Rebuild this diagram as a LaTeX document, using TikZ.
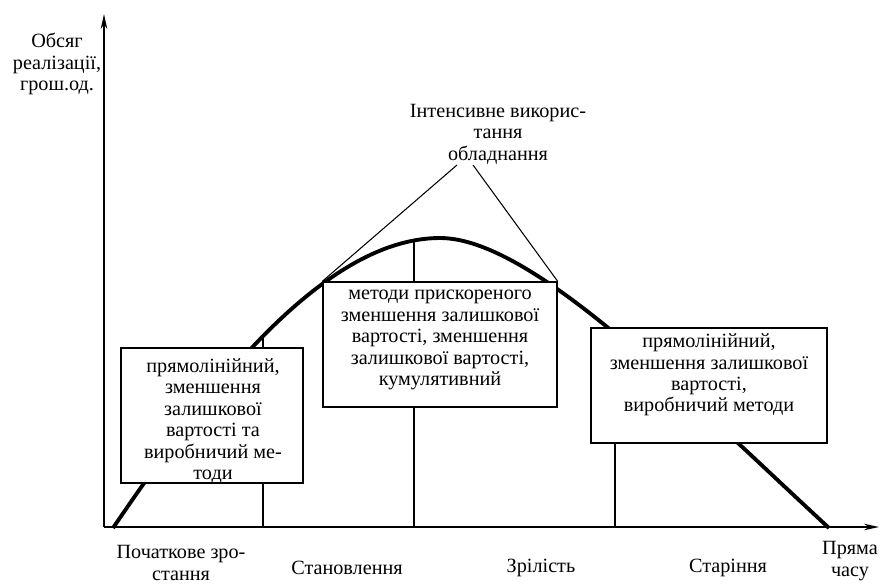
\documentclass[tikz,border=0pt]{standalone}
\usepackage{fontspec}
\setmainfont{Liberation Serif}
\usetikzlibrary{arrows.meta, positioning}

\begin{document}
\begin{tikzpicture}[
    x=0.02cm, y=-0.02cm,
    font=\fontsize{11.5}{12.2}\selectfont,
    axis/.style={line width=0.9pt, -{Stealth[length=3mm, width=1.3mm]}},
    lifecurve/.style={line width=2.2pt, line join=round},
    phaseline/.style={line width=0.7pt},
    pointer/.style={line width=0.6pt},
    methodbox/.style={rectangle, draw, line width=0.8pt, fill=white, inner sep=0pt},
    caption/.style={align=center, inner sep=1pt}
]
\useasboundingbox (0,0) rectangle (880,583);

% Axes
\coordinate (origin) at (104,527);
\coordinate (ytop) at (104,14);
\coordinate (xend) at (879,527);
\draw[axis] (origin) -- (ytop);
\draw[axis] (origin) -- (xend);

% Life cycle curve
\coordinate (start) at (113,528);
\coordinate (peak) at (440,238);
\coordinate (finish) at (829,528);
\draw[lifecurve] (start) .. controls (200,400) and (320,238) .. (peak)
                         .. controls (530,238) and (680,390) .. (finish);

% Phase boundaries
\coordinate (c1) at (263,334);
\coordinate (c2) at (414,241);
\coordinate (c3) at (615,333);
\draw[phaseline] (263,527) -- (c1);
\draw[phaseline] (414,527) -- (c2);
\draw[phaseline] (615,527) -- (c3);

% Method boxes
\node[methodbox, minimum width=3.64cm, minimum height=2.7cm] (leftbox) at (212,415.5) {};
\node[caption] (lefttext) at (213,421) {прямолінійний,\\зменшення\\залишкової\\вартості та\\виробничий ме-\\тоди};

\node[methodbox, minimum width=4.68cm, minimum height=2.5cm] (midbox) at (440,344.5) {};
\node[caption] (midtext) at (440,340) {методи прискореного\\зменшення залишкової\\вартості, зменшення\\залишкової вартості,\\кумулятивний};

\node[methodbox, minimum width=4.72cm, minimum height=2.3cm] (rightbox) at (709,385.5) {};
\node[caption] (righttext) at (709,375) {прямолінійний,\\зменшення залишкової\\вартості,\\виробничий методи};

% Intensive use
\node[caption] (intens) at (498,134) {Інтенсивне викорис-\\тання\\обладнання};
\coordinate (pl) at (457,165);
\coordinate (pr) at (473,165);
\draw[pointer] (pl) -- (midbox.north west);
\draw[pointer] (pr) -- (midbox.north east);

% Axis labels
\node[caption] (ylabel) at (57,64) {Обсяг\\реалізації,\\грош.од.};
\node[caption] (xlabel) at (850,561) {Пряма\\часу};

% Phase names
\node[caption] (ph1) at (181,563) {Початкове зро-\\стання};
\node[caption] (ph2) at (347,568) {Становлення};
\node[caption] (ph3) at (541,568) {Зрілість};
\node[caption] (ph4) at (728,568) {Старіння};

\end{tikzpicture}
\end{document}
